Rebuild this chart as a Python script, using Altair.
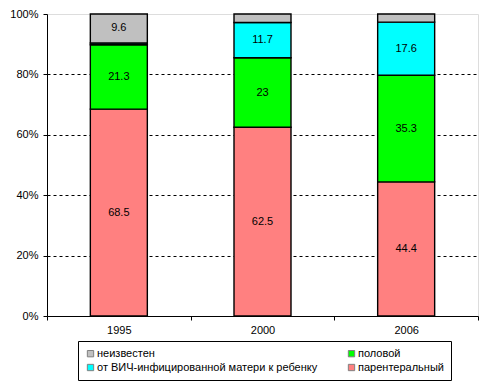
import altair as alt
import pandas as pd

years = ["1995", "2000", "2006"]
routes = ["парентеральный", "половой", "от ВИЧ-инфицированной матери к ребенку", "неизвестен"]
parenteral = [68.5, 62.5, 44.4]
sexual = [21.3, 23.0, 35.3]
mother = [0.6, 11.7, 17.6]
unknown = [9.6, 2.8, 2.7]
labels_parenteral = ["68.5", "62.5", "44.4"]
labels_sexual = ["21.3", "23", "35.3"]
labels_mother = ["", "11.7", "17.6"]
labels_unknown = ["9.6", "", ""]

legend_order = ["неизвестен", "от ВИЧ-инфицированной матери к ребенку", "половой", "парентеральный"]
colors = {"парентеральный": "#FF8080", "половой": "#00FF00",
          "от ВИЧ-инфицированной матери к ребенку": "#00FFFF", "неизвестен": "#C0C0C0"}

rows = []
for i, y in enumerate(years):
    for k, (r, vals, labs) in enumerate(zip(routes, [parenteral, sexual, mother, unknown],
                                         [labels_parenteral, labels_sexual, labels_mother, labels_unknown])):
        rows.append({"year": y, "route": r, "value": vals[i], "label": labs[i], "ord": k})
df = pd.DataFrame(rows)

FONT = "Liberation Sans"

x = alt.X("year:N", title=None, sort=years,
          scale=alt.Scale(paddingInner=0, paddingOuter=0),
          axis=alt.Axis(labelAngle=0, tickBand="extent", tickSize=4, tickColor="black",
                        domainColor="black", labelFont=FONT, labelFontSize=11,
                        labelColor="black", labelPadding=4, grid=False))

bars = alt.Chart(df).mark_bar(width=57, stroke="black", strokeWidth=1.4).encode(
    x=x,
    y=alt.Y("value:Q", stack="zero", title=None,
            scale=alt.Scale(domain=[0, 100], nice=False),
            axis=alt.Axis(values=[0, 20, 40, 60, 80, 100], labelExpr="datum.value + '%'",
                          tickSize=4, tickColor="black", domainColor="black",
                          labelFont=FONT, labelFontSize=11, labelColor="black",
                          labelPadding=5, grid=True, gridColor="black", gridDash=[3, 3],
                          gridWidth=1,
                          gridOpacity=alt.condition("datum.value == 0 || datum.value == 100",
                                                    alt.value(0), alt.value(1)))),
    color=alt.Color("route:N",
                    scale=alt.Scale(domain=legend_order, range=[colors[r] for r in legend_order]),
                    legend=alt.Legend(title=None, orient="none", legendX=31, legendY=327,
                                      columns=2, columnPadding=28, rowPadding=2,
                                      symbolType="square", symbolSize=40,
                                      symbolStrokeColor="#808080", symbolStrokeWidth=1,
                                      labelFont=FONT, labelFontSize=11, labelColor="black",
                                      labelOffset=1, labelLimit=400, strokeColor="black",
                                      padding=7, fillColor="white")),
    order=alt.Order("ord:Q", sort="ascending"),
)

text = alt.Chart(df).transform_stack(
    stack="value", groupby=["year"], as_=["y0", "y1"],
    sort=[alt.SortField("ord", order="ascending")]
).transform_calculate(
    mid="(datum.y0 + datum.y1) / 2"
).transform_filter("datum.label != ''").mark_text(
    font=FONT, fontSize=11, color="black"
).encode(
    x=alt.X("year:N", sort=years),
    y=alt.Y("mid:Q"),
    text="label:N",
)

chart = alt.layer(bars, text).properties(
    width=431, height=302,
    autosize=alt.AutoSizeParams(type="none"),
    padding={"left": 39, "top": 6, "right": 7, "bottom": 66},
).configure_view(stroke="#808080", strokeWidth=1).configure(background="white")

chart.save("out.html", embed_options={"renderer": "svg", "actions": False})
